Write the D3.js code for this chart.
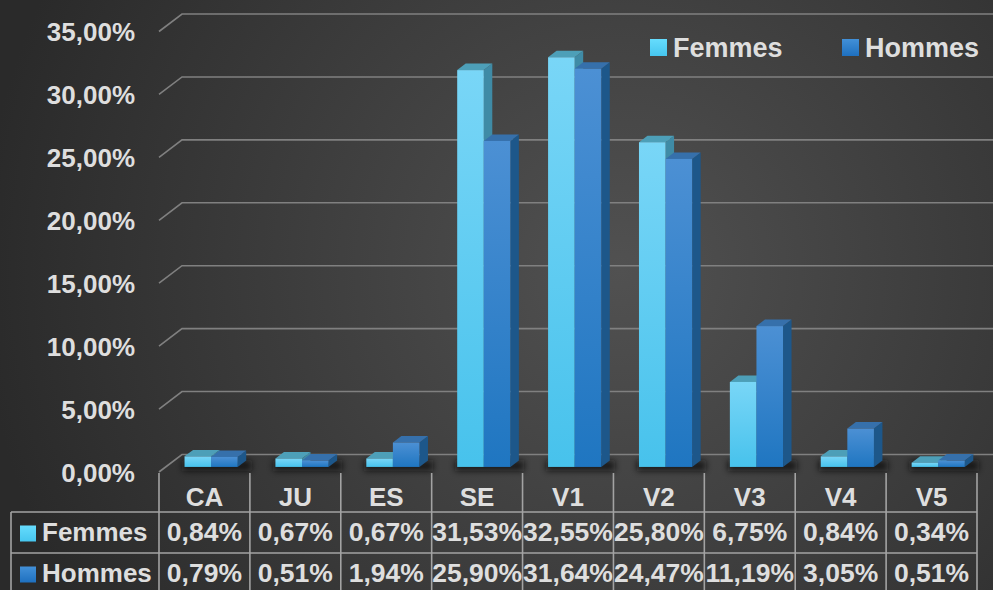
<!DOCTYPE html>
<html>
<head>
<meta charset="utf-8">
<script src="https://cdn.jsdelivr.net/npm/d3@7"></script>
<style>
  html, body { margin: 0; padding: 0; background: #333; }
  #chart svg { display: block; }
  text { font-family: "Liberation Sans", Arial, sans-serif; font-weight: bold; fill: #dedede; }
</style>
</head>
<body>
<div id="chart"></div>
<script>
// Data
const categories = ['CA', 'JU', 'ES', 'SE', 'V1', 'V2', 'V3', 'V4', 'V5'];
const seriesNames = ['Femmes', 'Hommes'];
const femmes = [0.84, 0.67, 0.67, 31.53, 32.55, 25.80, 6.75, 0.84, 0.34];
const hommes = [0.79, 0.51, 1.94, 25.90, 31.64, 24.47, 11.19, 3.05, 0.51];
const yTicks = [0, 5, 10, 15, 20, 25, 30, 35];

const Chart = {
  init() {
    this.wrapper = document.querySelector('#chart');
    this.series = [femmes, hommes];

    this.setVar();
    this.create();
    this.scales();
    this.axis();
    this.bars();
    this.legend();
    this.table();
  },

  setVar() {
    this.width = 993;
    this.height = 590;

    // oblique depth of the plot box
    this.depthX = 23;
    this.depthY = -17.5;

    // colours per series: front top/bottom, side, top face
    this.colors = [
      { front: ['#79d6f7', '#47c2ec'], side: '#3f8ba6', top: '#4d9fb8', key: ['#66dcfd', '#46c6ef'] },
      { front: ['#4c90d4', '#1f76c1'], side: '#1d578a', top: '#3670ab', key: ['#4290d8', '#1e70bf'] },
    ];

    this.fmt = d3.formatLocale({ decimal: ',', thousands: ' ', grouping: [3], currency: ['', '%'] }).format('.2f');
  },

  create() {
    this.svg = d3.select('#chart').append('svg')
      .attr('width', this.width)
      .attr('height', this.height);

    const defs = this.svg.append('defs');

    const bg = defs.append('radialGradient')
      .attr('id', 'bg')
      .attr('gradientUnits', 'userSpaceOnUse')
      .attr('cx', 620).attr('cy', 270).attr('r', 640);
    bg.append('stop').attr('offset', 0).attr('stop-color', '#515151');
    bg.append('stop').attr('offset', 1).attr('stop-color', '#2a2a2a');

    this.colors.forEach((c, i) => {
      const g = defs.append('linearGradient')
        .attr('id', `front${i}`)
        .attr('x1', 0).attr('y1', 0).attr('x2', 0).attr('y2', 1);
      g.append('stop').attr('offset', 0).attr('stop-color', c.front[0]);
      g.append('stop').attr('offset', 1).attr('stop-color', c.front[1]);

      const k = defs.append('linearGradient')
        .attr('id', `key${i}`)
        .attr('x1', 0).attr('y1', 0).attr('x2', 0).attr('y2', 1);
      k.append('stop').attr('offset', 0).attr('stop-color', c.key[0]);
      k.append('stop').attr('offset', 1).attr('stop-color', c.key[1]);
    });

    defs.append('filter')
      .attr('id', 'blur')
      .attr('x', '-50%').attr('y', '-200%').attr('width', '200%').attr('height', '500%')
      .append('feGaussianBlur')
      .attr('stdDeviation', 3);

    this.svg.append('rect')
      .attr('width', this.width)
      .attr('height', this.height)
      .attr('fill', 'url(#bg)');

    this.g = this.svg.append('g');
  },

  scales() {
    // front plane of the plot box
    this.x = d3.scaleBand()
      .domain(categories)
      .range([159, 977]);

    this.y = d3.scaleLinear()
      .domain([0, 35])
      .range([472, 31.5]);

    // series inside a category
    this.xs = d3.scaleBand()
      .domain(seriesNames)
      .range([0, this.x.bandwidth() * 0.585]);

    // depth (0 = front, 1 = back wall)
    this.zFront = 0.29;
    this.zBack = 0.66;
  },

  // project a point of the front plane to depth z
  p(x, y, z) {
    return [x + z * this.depthX, y + z * this.depthY];
  },

  axis() {
    const grid = this.g.append('g').attr('class', 'grid');
    const [x0] = [this.x.range()[0]];
    const xEnd = this.x.range()[1] + this.depthX + 20;

    grid.selectAll('path')
      .data(yTicks)
      .join('path')
      .attr('fill', 'none')
      .attr('stroke', '#808080')
      .attr('stroke-width', 1.6)
      .attr('d', (d) => {
        const a = [x0, this.y(d)];
        const b = this.p(x0, this.y(d), 1);
        return `M${a[0]},${a[1]}L${b[0]},${b[1]}L${xEnd},${b[1]}`;
      });

    grid.selectAll('text')
      .data(yTicks)
      .join('text')
      .attr('x', 135)
      .attr('y', (d) => this.y(d) + 9.5)
      .attr('text-anchor', 'end')
      .attr('font-size', '26px')
      .text((d) => `${this.fmt(d)}%`);
  },

  bars() {
    const shadows = this.g.append('g');
    const barsG = this.g.append('g');
    const bw = this.xs.bandwidth();
    const pairW = this.xs.range()[1];

    categories.forEach((cat, ci) => {
      const left = this.x(cat) + (this.x.bandwidth() - pairW) / 2;
      const base = this.y(0);

      // floor shadow
      const s0 = this.p(left - 2, base, this.zFront);
      const s1 = this.p(left + pairW + 4, base, this.zBack + 0.05);
      shadows.append('rect')
        .attr('x', s0[0])
        .attr('y', s1[1] + 1)
        .attr('width', s1[0] - s0[0])
        .attr('height', s0[1] - s1[1] + 3)
        .attr('fill', '#111')
        .attr('opacity', 0.75)
        .attr('filter', 'url(#blur)');

      seriesNames.forEach((name, si) => {
        const v = this.series[si][ci];
        const c = this.colors[si];
        const xl = left + this.xs(name);
        const xr = xl + bw;
        const top = this.y(v);

        const fl = this.p(xl, top, this.zFront);
        const fr = this.p(xr, top, this.zFront);
        const frb = this.p(xr, base, this.zFront);
        const bl = this.p(xl, top, this.zBack);
        const br = this.p(xr, top, this.zBack);
        const brb = this.p(xr, base, this.zBack);

        const bar = barsG.append('g').attr('class', `bar bar-${name}`);

        // side face
        bar.append('path')
          .attr('d', `M${fr}L${br}L${brb}L${frb}Z`)
          .attr('fill', c.side);

        // top face
        bar.append('path')
          .attr('d', `M${fl}L${bl}L${br}L${fr}Z`)
          .attr('fill', c.top);

        // front face
        bar.append('rect')
          .attr('x', fl[0])
          .attr('y', fl[1])
          .attr('width', bw)
          .attr('height', frb[1] - fr[1])
          .attr('fill', `url(#front${si})`);
      });
    });
  },

  legend() {
    const items = [
      { name: seriesNames[0], x: 650 },
      { name: seriesNames[1], x: 842 },
    ];

    const lg = this.g.append('g').attr('class', 'legend');

    items.forEach((d, i) => {
      lg.append('rect')
        .attr('x', d.x)
        .attr('y', 39)
        .attr('width', 17)
        .attr('height', 17)
        .attr('fill', `url(#key${i})`);

      lg.append('text')
        .attr('x', d.x + 23)
        .attr('y', 56.5)
        .attr('font-size', '27px')
        .text(d.name);
    });
  },

  table() {
    const tg = this.g.append('g').attr('class', 'table');
    const left = 11;
    const x0 = this.x.range()[0];
    const x1 = this.x.range()[1];
    const rows = [472, 512, 553, 594];
    const lineColor = '#a3a3a3';

    // horizontal lines
    tg.selectAll('line.h')
      .data([rows[1], rows[2], rows[3]])
      .join('line')
      .attr('class', 'h')
      .attr('x1', left).attr('x2', x1)
      .attr('y1', (d) => d).attr('y2', (d) => d)
      .attr('stroke', lineColor)
      .attr('stroke-width', 1.6);

    // column separators
    const cols = categories.map((c) => this.x(c)).concat([x1]);
    tg.selectAll('line.v')
      .data(cols)
      .join('line')
      .attr('class', 'v')
      .attr('x1', (d) => d).attr('x2', (d) => d)
      .attr('y1', rows[0] + 1).attr('y2', this.height)
      .attr('stroke', lineColor)
      .attr('stroke-width', 1.6);

    tg.append('line')
      .attr('x1', left).attr('x2', left)
      .attr('y1', rows[1]).attr('y2', this.height)
      .attr('stroke', lineColor)
      .attr('stroke-width', 1.6);

    // category labels
    tg.selectAll('text.cat')
      .data(categories)
      .join('text')
      .attr('class', 'cat')
      .attr('x', (d) => this.x(d) + this.x.bandwidth() / 2)
      .attr('y', 506)
      .attr('text-anchor', 'middle')
      .attr('font-size', '26px')
      .text((d) => d);

    // series rows
    const baselines = [541, 582];
    seriesNames.forEach((name, si) => {
      tg.append('rect')
        .attr('x', 20)
        .attr('y', baselines[si] - 15.5)
        .attr('width', 16)
        .attr('height', 16)
        .attr('fill', `url(#key${si})`);

      tg.append('text')
        .attr('x', 42)
        .attr('y', baselines[si])
        .attr('font-size', '26px')
        .text(name);

      tg.selectAll(`text.val${si}`)
        .data(this.series[si])
        .join('text')
        .attr('class', `val${si}`)
        .attr('x', (d, i) => this.x(categories[i]) + this.x.bandwidth() / 2)
        .attr('y', baselines[si])
        .attr('text-anchor', 'middle')
        .attr('font-size', '26.5px')
        .text((d) => `${this.fmt(d)}%`);
    });
  },
};

Chart.init();
</script>
</body>
</html>
